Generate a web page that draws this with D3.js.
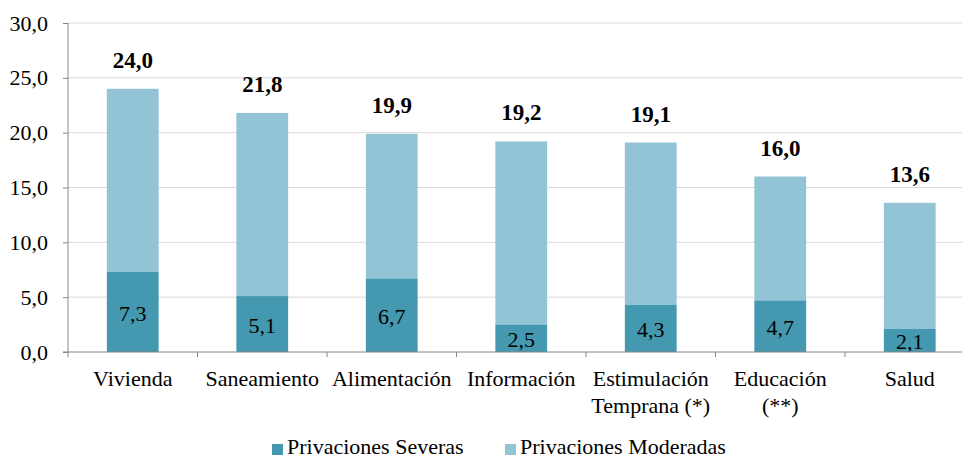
<!DOCTYPE html>
<html>
<head>
<meta charset="utf-8">
<script src="https://cdn.jsdelivr.net/npm/d3@7"></script>
<style>
  body { margin: 0; background: #fff; }
</style>
</head>
<body>
<svg id="chart" width="962" height="459"></svg>
<script>
var categories = [["Vivienda"], ["Saneamiento"], ["Alimentación"], ["Información"], ["Estimulación", "Temprana (*)"], ["Educación", "(**)"], ["Salud"]];
var severas = [7.3, 5.1, 6.7, 2.5, 4.3, 4.7, 2.1];
var totales = [24.0, 21.8, 19.9, 19.2, 19.1, 16.0, 13.6];
var yTicks = [0, 5, 10, 15, 20, 25, 30];
var seriesNames = ["Privaciones Severas", "Privaciones Moderadas"];
var colorSev = "#4499b0", colorMod = "#93c4d6";
var FONT = "'Liberation Serif'";

var fmt = function(v) { return d3.format(".1f")(v).replace(".", ","); };

var svg = d3.select("#chart");
var x = d3.scaleBand()
    .domain(d3.range(categories.length))
    .range([68, 974.5])
    .paddingInner(0.6)
    .paddingOuter(0.3);
var y = d3.scaleLinear().domain([0, 30]).range([352, 23]);

// gridlines
svg.append("g").selectAll("line").data(yTicks.slice(1)).enter().append("line")
    .attr("x1", 68).attr("x2", 962)
    .attr("y1", d => y(d)).attr("y2", d => y(d))
    .attr("stroke", "#d9d9d9").attr("stroke-width", 1);

// bars
var g = svg.append("g");
g.selectAll(".mod").data(totales).enter().append("rect")
    .attr("x", (d, i) => x(i)).attr("width", x.bandwidth())
    .attr("y", d => y(d)).attr("height", (d, i) => y(severas[i]) - y(d))
    .attr("fill", colorMod);
g.selectAll(".sev").data(severas).enter().append("rect")
    .attr("x", (d, i) => x(i)).attr("width", x.bandwidth())
    .attr("y", d => y(d)).attr("height", d => y(0) - y(d))
    .attr("fill", colorSev);

// labels
g.selectAll(".tot").data(totales).enter().append("text")
    .attr("x", (d, i) => x(i) + x.bandwidth() / 2)
    .attr("y", d => y(d) - 21)
    .attr("text-anchor", "middle")
    .style("font-family", FONT).style("font-weight", "bold").style("font-size", "23px")
    .text(fmt);
g.selectAll(".sevlab").data(severas).enter().append("text")
    .attr("x", (d, i) => x(i) + x.bandwidth() / 2)
    .attr("y", d => (y(d) + y(0)) / 2 + 9)
    .attr("text-anchor", "middle")
    .style("font-family", FONT).style("font-size", "22px")
    .text(fmt);

// y axis
var yAxis = svg.append("g").attr("transform", "translate(68,0)")
    .call(d3.axisLeft(y).tickValues(yTicks).tickFormat(fmt).tickSize(5).tickPadding(15));
yAxis.attr("font-family", null);
yAxis.select(".domain").attr("stroke", "#868686").attr("d", "M0," + y(30) + "V" + y(0));
yAxis.selectAll(".tick line").attr("stroke", "#868686");
yAxis.selectAll("text").style("font-size", "22px").style("font-family", FONT).attr("fill", "#000");

// x axis
var xAxisG = svg.append("g").attr("transform", "translate(0," + y(0) + ")");
xAxisG.append("line").attr("x1", 63).attr("x2", 962).attr("stroke", "#868686");
var bounds = d3.range(categories.length + 1).map(i => 68 + i * x.step());
xAxisG.selectAll(".xt").data(bounds).enter().append("line")
    .attr("x1", d => d).attr("x2", d => d).attr("y1", 0).attr("y2", 5)
    .attr("stroke", "#868686");
var cl = xAxisG.selectAll(".cl").data(categories).enter().append("text")
    .attr("text-anchor", "middle")
    .style("font-family", FONT).style("font-size", "22px")
    .attr("transform", (d, i) => "translate(" + (x(i) + x.bandwidth() / 2) + ",34)");
cl.selectAll("tspan").data(d => d).enter().append("tspan")
    .attr("x", 0).attr("dy", (d, j) => j === 0 ? 0 : 27)
    .text(d => d);

// legend
var legend = svg.append("g").attr("transform", "translate(272,444)");
var items = [{ name: seriesNames[0], c: colorSev, dx: 0 }, { name: seriesNames[1], c: colorMod, dx: 233 }];
var li = legend.selectAll("g").data(items).enter().append("g")
    .attr("transform", d => "translate(" + d.dx + ",0)");
li.append("rect").attr("width", 11).attr("height", 11).attr("fill", d => d.c);
li.append("text").attr("x", 15).attr("y", 10)
    .style("font-family", FONT).style("font-size", "22px").text(d => d.name);
</script>
</body>
</html>
